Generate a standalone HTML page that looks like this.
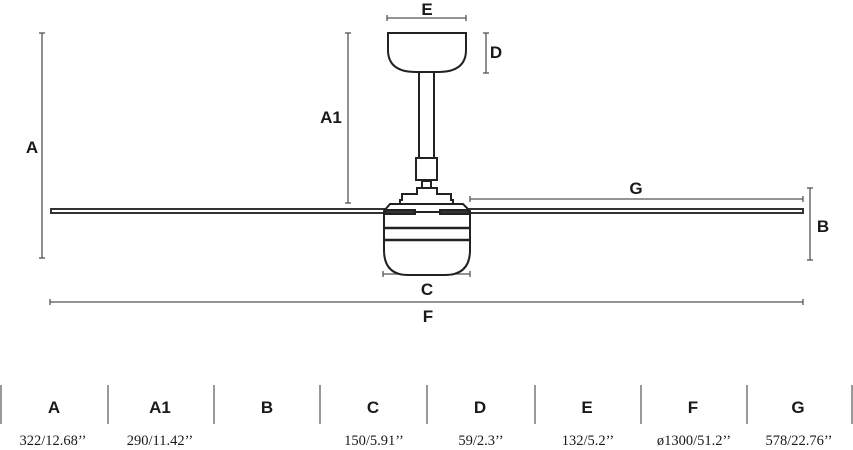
<!DOCTYPE html>
<html><head><style>
html,body{margin:0;padding:0;background:#fff;}
svg{display:block}
text{font-family:"Liberation Sans",sans-serif;fill:#1a1a1a}
.l{font-weight:bold;font-size:17px;text-anchor:middle}
.v{font-family:"Liberation Serif",serif;font-size:14.5px;text-anchor:middle}
</style></head><body>
<svg width="853" height="450" viewBox="0 0 853 450" xmlns="http://www.w3.org/2000/svg">
<g stroke="#555" stroke-width="1.3" fill="none">
 <line x1="387" y1="18" x2="466" y2="18"/><line x1="387" y1="15" x2="387" y2="21"/><line x1="466" y1="15" x2="466" y2="21"/>
 <line x1="486" y1="33" x2="486" y2="73"/><line x1="483" y1="33" x2="489" y2="33"/><line x1="483" y1="73" x2="489" y2="73"/>
 <line x1="348" y1="33" x2="348" y2="203"/><line x1="345" y1="33" x2="351" y2="33"/><line x1="345" y1="203" x2="351" y2="203"/>
 <line x1="42" y1="33" x2="42" y2="258"/><line x1="39" y1="33" x2="45" y2="33"/><line x1="39" y1="258" x2="45" y2="258"/>
 <line x1="470" y1="199" x2="803" y2="199"/><line x1="470" y1="196" x2="470" y2="202"/><line x1="803" y1="196" x2="803" y2="202"/>
 <line x1="810" y1="188" x2="810" y2="260"/><line x1="807" y1="188" x2="813" y2="188"/><line x1="807" y1="260" x2="813" y2="260"/>
 <line x1="383" y1="274" x2="470" y2="274"/><line x1="383" y1="271" x2="383" y2="277"/><line x1="470" y1="271" x2="470" y2="277"/>
 <line x1="50" y1="302" x2="803" y2="302"/><line x1="50" y1="299" x2="50" y2="305"/><line x1="803" y1="299" x2="803" y2="305"/>
 <g stroke="#777" stroke-width="1.5">
 <line x1="1" y1="385" x2="1" y2="424"/><line x1="108" y1="385" x2="108" y2="424"/><line x1="214" y1="385" x2="214" y2="424"/><line x1="320" y1="385" x2="320" y2="424"/><line x1="427" y1="385" x2="427" y2="424"/><line x1="535" y1="385" x2="535" y2="424"/><line x1="641" y1="385" x2="641" y2="424"/><line x1="747" y1="385" x2="747" y2="424"/><line x1="852" y1="385" x2="852" y2="424"/>
 </g>
</g>
<g stroke="#222" stroke-width="2" fill="#fff">
 <path d="M388 33 H466 V50 Q466 72 438 72 H416 Q388 72 388 50 Z"/>
 <rect x="419" y="72" width="15" height="86"/>
 <rect x="416" y="158" width="21" height="22"/>
 <rect x="422" y="181" width="9" height="7"/>
 <path d="M417 194 V188 H437 V194 H451 V200 H453 V205 H400 V200 H402 V194 Z"/>
 <rect x="51" y="209" width="752" height="4" stroke="#333"/>
 <path d="M390 204 H463 L470 211 V250 Q470 275 445 275 H408 Q384 275 384 250 V211 Z"/>
 <line x1="384" y1="212" x2="470" y2="212"/>
 <line x1="384" y1="228" x2="470" y2="228" stroke-width="2.5"/>
 <line x1="384" y1="240" x2="470" y2="240" stroke-width="2.5"/>
 <rect x="385" y="210" width="30" height="4" fill="#333"/>
 <rect x="440" y="210" width="29" height="4" fill="#333"/>
</g>
<text class="l" x="427" y="15">E</text>
<text class="l" x="496" y="58">D</text>
<text class="l" x="331" y="123">A1</text>
<text class="l" x="32" y="153">A</text>
<text class="l" x="636" y="194">G</text>
<text class="l" x="823" y="232">B</text>
<text class="l" x="427" y="295">C</text>
<text class="l" x="428" y="322">F</text>
<text class="l" x="54" y="413">A</text>
<text class="l" x="160" y="413">A1</text>
<text class="l" x="267" y="413">B</text>
<text class="l" x="373" y="413">C</text>
<text class="l" x="480" y="413">D</text>
<text class="l" x="587" y="413">E</text>
<text class="l" x="693" y="413">F</text>
<text class="l" x="798" y="413">G</text>
<text class="v" x="53" y="445">322/12.68’’</text>
<text class="v" x="160" y="445">290/11.42’’</text>
<text class="v" x="374" y="445">150/5.91’’</text>
<text class="v" x="481" y="445">59/2.3’’</text>
<text class="v" x="588" y="445">132/5.2’’</text>
<text class="v" x="694" y="445">ø1300/51.2’’</text>
<text class="v" x="799" y="445">578/22.76’’</text>
</svg>
</body></html>
